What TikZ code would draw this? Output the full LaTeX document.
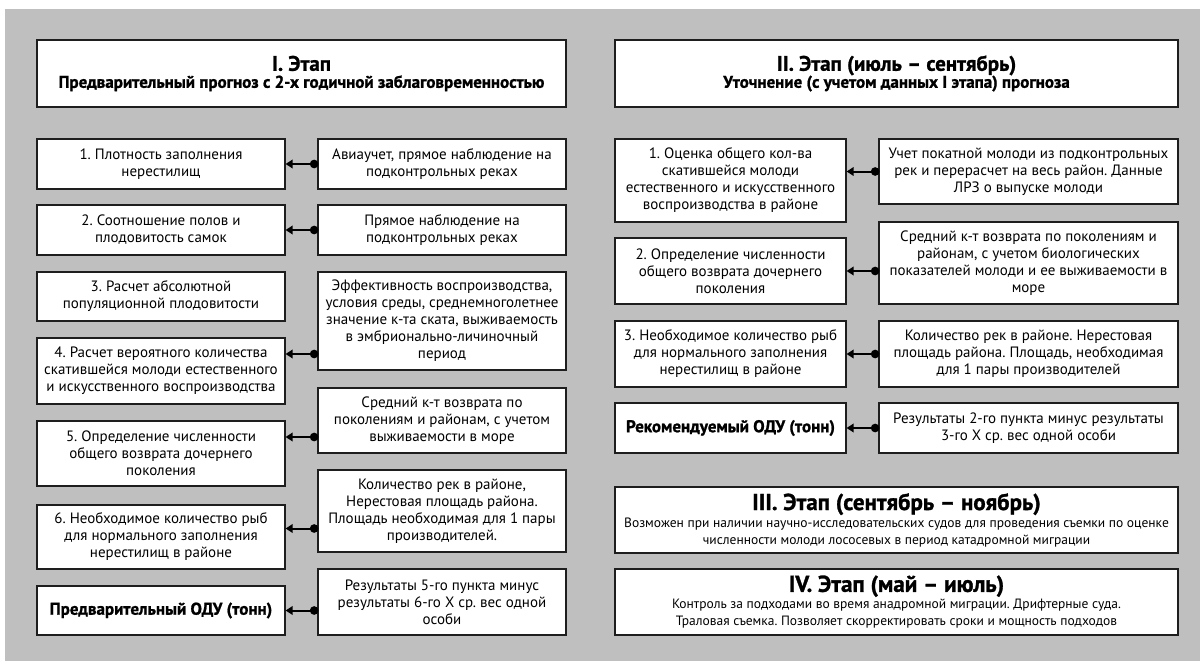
\documentclass[tikz,border=0pt]{standalone}
\usepackage{fontspec}
\setmainfont{PT Sans}
\newfontfamily\hv[FakeBold=1.2]{PT Sans Bold}
\newcommand\dsc{\fontsize{13.5}{15}\selectfont}
\usetikzlibrary{arrows.meta,shadows}
\definecolor{bgc}{RGB}{191,191,191}
\definecolor{edge}{RGB}{30,30,30}
\begin{document}
\frenchspacing
\begin{tikzpicture}[x=1pt,y=-1pt,
  box/.style={draw=edge, line width=1.2pt, fill=white, align=center,
    inner xsep=2pt, inner ysep=2pt,
    drop shadow={shadow xshift=1pt, shadow yshift=-1pt, fill=black!55, opacity=1},
    font=\fontsize{15}{17}\selectfont},
  lbox/.style={box, minimum width=248pt},
  rlbox/.style={box, minimum width=231pt},
  rrbox/.style={box, minimum width=299pt},
  hlbox/.style={box, minimum width=529pt},
  hrbox/.style={box, minimum width=563pt},
  odu/.style={font=\fontsize{17}{20}\hv},
  conn/.style={line width=2pt, draw=black, {Triangle[length=7pt,width=8.5pt]}-{Circle[length=8.5pt]}, shorten >=-1pt}
]
\useasboundingbox (0,0) rectangle (1200,661);
\fill[bgc] (5,9) rectangle (1200,661);

% ---------- Stage I ----------
\node[hlbox, minimum height=67pt] (h1) at (301.5,73.5)
  {{\fontsize{21}{24}\hv I. Этап}\\
   {\fontsize{17}{19}\hv Предварительный прогноз с 2-х годичной заблаговременностью}};

\node[lbox, minimum height=50pt] (l1) at (161,164) {1. Плотность заполнения\\нерестилищ};
\node[lbox, minimum height=50pt] (r1) at (442,164) {Авиаучет, прямое наблюдение на\\подконтрольных реках};
\node[lbox, minimum height=50pt] (l2) at (161,230) {2. Соотношение полов и\\плодовитость самок};
\node[lbox, minimum height=50pt] (r2) at (442,230) {Прямое наблюдение на\\подконтрольных реках};
\node[lbox, minimum height=49pt] (l3) at (161,296.5) {3. Расчет абсолютной\\популяционной плодовитости};
\node[lbox, minimum height=98pt] (r3) at (442,321) {Эффективность воспроизводства,\\условия среды, среднемноголетнее\\значение к-та ската, выживаемость\\в эмбрионально-личиночный\\период};
\node[lbox, minimum height=66pt] (l4) at (161,371) {4. Расчет вероятного количества\\скатившейся молоди естественного\\и искусственного воспроизводства};
\node[lbox, minimum height=65pt] (r4) at (442,420.5) {Средний к-т возврата по\\поколениям и районам, с учетом\\выживаемости в море};
\node[lbox, minimum height=65pt] (l5) at (161,453.5) {5. Определение численности\\общего возврата дочернего\\поколения};
\node[lbox, minimum height=82pt] (r5) at (442,511) {Количество рек в районе,\\Нерестовая площадь района.\\Площадь необходимая для 1 пары\\производителей.};
\node[lbox, minimum height=64pt] (l6) at (161,537) {6. Необходимое количество рыб\\для нормального заполнения\\нерестилищ в районе};
\node[lbox, minimum height=66pt] (r6) at (442,602) {Результаты 5-го пункта минус\\результаты 6-го Х ср. вес одной\\особи};
\node[lbox, minimum height=49pt, odu] (l7) at (161,610.5) {Предварительный ОДУ (тонн)};

\coordinate (y1) at (0,164);
\coordinate (y2) at (0,230);
\coordinate (y4) at (0,354);
\coordinate (y5) at (0,437);
\coordinate (y6) at (0,528.5);
\coordinate (y7) at (0,610.5);
\draw[conn] (l1.east |- y1) -- (r1.west |- y1);
\draw[conn] (l2.east |- y2) -- (r2.west |- y2);
\draw[conn] (l4.east |- y4) -- (r3.west |- y4);
\draw[conn] (l5.east |- y5) -- (r4.west |- y5);
\draw[conn] (l6.east |- y6) -- (r5.west |- y6);
\draw[conn] (l7.east |- y7) -- (r6.west |- y7);

% ---------- Stage II ----------
\node[hrbox, minimum height=67pt] (h2) at (896.5,73.5)
  {{\fontsize{21}{24}\hv II. Этап (июль – сентябрь)}\\
   {\fontsize{17}{19}\hv Уточнение (с учетом данных I этапа) прогноза}};

\node[rlbox, minimum height=83pt] (m1) at (730.5,180.5) {1. Оценка общего кол-ва\\скатившейся молоди\\естественного и искусственного\\воспроизводства в районе};
\node[rrbox, minimum height=65pt] (n1) at (1028.5,171.5) {Учет покатной молоди из подконтрольных\\рек и перерасчет на весь район. Данные\\ЛРЗ о выпуске молоди};
\node[rlbox, minimum height=66pt] (m2) at (730.5,271) {2. Определение численности\\общего возврата дочернего\\поколения};
\node[rrbox, minimum height=82pt] (n2) at (1028.5,263) {Средний к-т возврата по поколениям и\\районам, с учетом биологических\\показателей молоди и ее выживаемости в\\море};
\node[rlbox, minimum height=66pt] (m3) at (730.5,354) {3. Необходимое количество рыб\\для нормального заполнения\\нерестилищ в районе};
\node[rrbox, minimum height=66pt] (n3) at (1028.5,354) {Количество рек в районе. Нерестовая\\площадь района. Площадь, необходимая\\для 1 пары производителей};
\node[rlbox, minimum height=50pt, odu] (m4) at (730.5,428) {Рекомендуемый ОДУ (тонн)};
\node[rrbox, minimum height=50pt] (n4) at (1028.5,428) {Результаты 2-го пункта минус результаты\\3-го Х ср. вес одной особи};

\coordinate (z1) at (0,171.5);
\coordinate (z2) at (0,271);
\coordinate (z3) at (0,354);
\coordinate (z4) at (0,428);
\draw[conn] (m1.east |- z1) -- (n1.west |- z1);
\draw[conn] (m2.east |- z2) -- (n2.west |- z2);
\draw[conn] (m3.east |- z3) -- (n3.west |- z3);
\draw[conn] (m4.east |- z4) -- (n4.west |- z4);

% ---------- Stage III, IV ----------
\node[hrbox, minimum height=66pt] (h3) at (896.5,520)
  {{\fontsize{23}{25}\hv III. Этап (сентябрь – ноябрь)}\\
   {\dsc Возможен при наличии научно-исследовательских судов для проведения съемки по оценке}\\
   {\dsc численности молоди лососевых в период катадромной миграции}};
\node[hrbox, minimum height=66pt] (h4) at (896.5,602)
  {{\fontsize{23}{25}\hv IV. Этап (май – июль)}\\
   {\dsc Контроль за подходами во время анадромной миграции. Дрифтерные суда.}\\
   {\dsc Траловая съемка. Позволяет скорректировать сроки и мощность подходов}};
\end{tikzpicture}
\end{document}
